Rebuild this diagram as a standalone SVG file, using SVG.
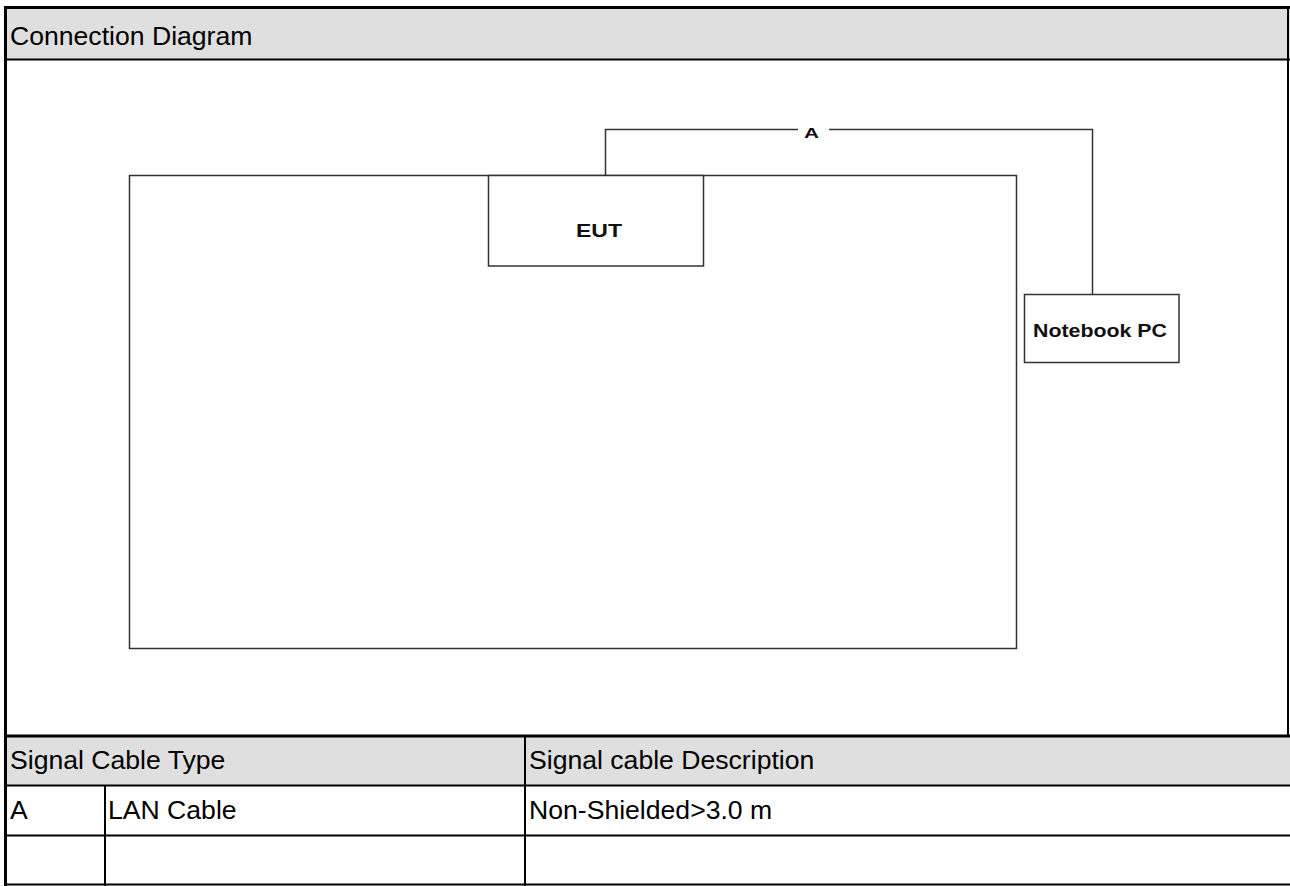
<svg xmlns="http://www.w3.org/2000/svg" width="1290" height="886" viewBox="0 0 1290 886">
<style>
.t{font-family:"Liberation Sans",Arial,sans-serif;font-size:26.6px;fill:#000}
.b{font-family:"Liberation Sans",Arial,sans-serif;font-weight:bold;fill:#111}
.box{fill:#fff;stroke:#333;stroke-width:1.5}
.grid{stroke:#000;fill:none}
.cable{stroke:#333;stroke-width:1.5;fill:none}
</style>
<rect x="0" y="0" width="1290" height="886" fill="#fff"/>
<g id="frame">
<rect x="6" y="8" width="1284" height="51" fill="#dfdfdf"/>
<rect x="6" y="736" width="1284" height="49" fill="#dfdfdf"/>
<line class="grid" x1="4" y1="7.5" x2="1290" y2="7.5" stroke-width="3"/>
<line class="grid" x1="5.5" y1="6" x2="5.5" y2="886" stroke-width="3"/>
<line class="grid" x1="1288" y1="6" x2="1288" y2="737" stroke-width="2"/>
<line class="grid" x1="4" y1="59.5" x2="1290" y2="59.5" stroke-width="2"/>
<line class="grid" x1="4" y1="736" x2="1290" y2="736" stroke-width="3"/>
<line class="grid" x1="4" y1="785.5" x2="1290" y2="785.5" stroke-width="2"/>
<line class="grid" x1="4" y1="835.5" x2="1290" y2="835.5" stroke-width="2"/>
<line class="grid" x1="4" y1="884.5" x2="1290" y2="884.5" stroke-width="2"/>
<line class="grid" x1="525" y1="737" x2="525" y2="886" stroke-width="2"/>
<line class="grid" x1="105" y1="786" x2="105" y2="886" stroke-width="2"/>
<text class="t" x="10" y="45">Connection Diagram</text>
<text class="t" x="10" y="769">Signal Cable Type</text>
<text class="t" x="529" y="769">Signal cable Description</text>
<text class="t" x="10" y="819">A</text>
<text class="t" x="108" y="819">LAN Cable</text>
<text class="t" x="529" y="819">Non-Shielded&gt;3.0 m</text>
</g>
<g id="table-area">
<rect class="box" x="129.5" y="175.5" width="887" height="473"/>
</g>
<g id="EUT">
<rect class="box" x="488.5" y="175.5" width="215" height="90.5"/>
<text class="b" x="599" y="237" font-size="19" text-anchor="middle" textLength="46" lengthAdjust="spacingAndGlyphs">EUT</text>
</g>
<g id="notebook">
<rect class="box" x="1024.5" y="294.5" width="154.5" height="68"/>
<text class="b" x="1033" y="337" font-size="19" textLength="134" lengthAdjust="spacingAndGlyphs">Notebook PC</text>
</g>
<g id="connectors">
<path class="cable" d="M605.5 175.5 V129.5 H798 M829 129.5 H1092.5 V294.5"/>
<text class="b" x="811.5" y="137.5" font-size="15" text-anchor="middle" textLength="15" lengthAdjust="spacingAndGlyphs">A</text>
</g>
</svg>
